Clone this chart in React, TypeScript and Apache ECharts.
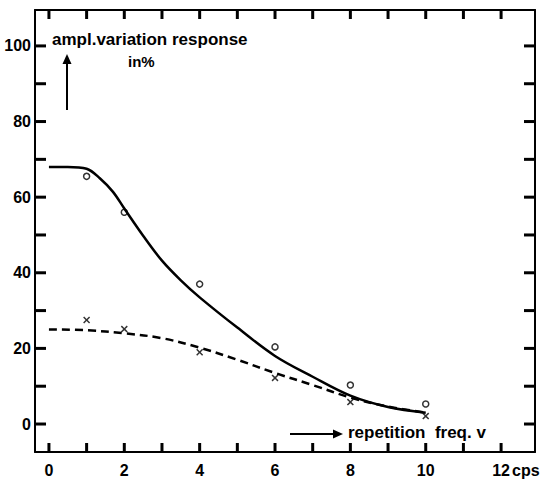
import React, { useEffect, useRef } from "react";
import * as echarts from "echarts";

const xTicks = [0, 1, 2, 3, 4, 5, 6, 7, 8, 9, 10, 11, 12];
const xLabels = [0, 2, 4, 6, 8, 10, 12];
const yTicks = [0, 10, 20, 30, 40, 50, 60, 70, 80, 90, 100];
const yLabels = [0, 20, 40, 60, 80, 100];

const circleX = [1, 2, 4, 6, 8, 10];
const circleY = [65.5, 56, 37, 20.4, 10.3, 5.3];
const crossX = [1, 2, 4, 6, 8, 10];
const crossY = [27.5, 25.1, 19, 12.2, 5.8, 2.1];

const solidX = [0, 0.5, 1, 1.35, 1.7, 2, 2.5, 3, 3.5, 4, 5, 6, 7, 8, 9, 10];
const solidY = [68, 68, 67.5, 65, 61.4, 57, 49.8, 43.2, 38, 33.5, 25.5, 18, 12.5, 7.5, 4.5, 3];
const dashedX = [0, 1, 2, 3, 4, 5, 6, 7, 8, 9, 10];
const dashedY = [25, 24.8, 24, 22.7, 20.2, 17, 13.5, 10.3, 7, 4.6, 3];

const X_MIN = -0.37;
const X_MAX = 12.9;
const Y_MIN = -7.4;
const Y_MAX = 109.5;

const zip = (xs: number[], ys: number[]) => xs.map((x, i) => [x, ys[i]]);

const FONT = "Liberation Sans";
const INK = "#000";

export default function App() {
  const ref = useRef<HTMLDivElement>(null);
  useEffect(() => {
    document.body.style.margin = "0";
    if (!ref.current) return;
    const chart = echarts.init(ref.current, undefined, { renderer: "svg" });
    const axisLine = { show: true, onZero: false, lineStyle: { color: INK, width: 2 } };
    const xBase = {
      type: "value" as const,
      min: X_MIN,
      max: X_MAX,
      axisLine,
      splitLine: { show: false },
      axisTick: { show: false },
    };
    const yBase = {
      type: "value" as const,
      min: Y_MIN,
      max: Y_MAX,
      axisLine,
      splitLine: { show: false },
      axisTick: { show: false },
    };
    const tickLine = (x1: number, y1: number, x2: number, y2: number) => ({
      type: "line",
      shape: { x1, y1, x2, y2 },
      style: { stroke: "#000000", lineWidth: 3, fill: null },
    });
    chart.setOption({
      animation: false,
      grid: { left: 35, right: 10, top: 10, bottom: 30 },
      xAxis: [
        {
          ...xBase,
          position: "bottom",
          axisLabel: {
            customValues: xLabels,
            fontSize: 16,
            fontWeight: "bold",
            fontFamily: FONT,
            color: INK,
            margin: 10,
          },
        },
        { ...xBase, position: "top", axisLabel: { show: false } },
      ],
      yAxis: [
        {
          ...yBase,
          position: "left",
          axisLabel: {
            customValues: yLabels,
            fontSize: 16,
            fontWeight: "bold",
            fontFamily: FONT,
            color: INK,
            margin: 4,
          },
        },
        { ...yBase, position: "right", axisLabel: { show: false } },
      ],
      series: [
        {
          type: "custom",
          silent: true,
          clip: false,
          z: 10,
          data: xTicks.map((t) => [t, 0]),
          renderItem: (params: any, api: any) => {
            const cs = params.coordSys;
            const x = api.coord([api.value(0), 0])[0];
            const b = cs.y + cs.height;
            return {
              type: "group",
              children: [tickLine(x, b, x, b - 9), tickLine(x, cs.y, x, cs.y + 9)],
            };
          },
        },
        {
          type: "custom",
          silent: true,
          clip: false,
          z: 10,
          data: yTicks.map((t) => [0, t]),
          renderItem: (params: any, api: any) => {
            const cs = params.coordSys;
            const y = api.coord([0, api.value(1)])[1];
            const r = cs.x + cs.width;
            return {
              type: "group",
              children: [tickLine(cs.x, y, cs.x + 11, y), tickLine(r, y, r - 11, y)],
            };
          },
        },
        {
          type: "line",
          data: zip(solidX, solidY),
          smooth: 0.35,
          showSymbol: false,
          lineStyle: { color: INK, width: 2.5 },
        },
        {
          type: "line",
          data: zip(dashedX, dashedY),
          smooth: 0.35,
          showSymbol: false,
          lineStyle: { color: INK, width: 2.5, type: [8, 5] },
        },
        {
          type: "scatter",
          data: zip(circleX, circleY),
          symbol: "circle",
          symbolSize: 6,
          itemStyle: { color: "#fff", borderColor: INK, borderWidth: 1.5 },
        },
        {
          type: "scatter",
          data: zip(crossX, crossY),
          symbol:
            "path://M0,1.5L1.5,0L5,3.5L8.5,0L10,1.5L6.5,5L10,8.5L8.5,10L5,6.5L1.5,10L0,8.5L3.5,5Z",
          symbolSize: 7,
          itemStyle: { color: INK },
        },
      ],
    });
    const p12 = chart.convertToPixel({ xAxisIndex: 0 }, 12) as number;
    chart.setOption({
      graphic: [
        {
          type: "text",
          left: 52,
          top: 31,
          style: { text: "ampl.variation response", font: `bold 17px ${FONT}`, fill: INK },
        },
        {
          type: "text",
          left: 128,
          top: 54,
          style: { text: "in%", font: `bold 15px ${FONT}`, fill: INK },
        },
        {
          type: "line",
          shape: { x1: 67, y1: 110, x2: 67, y2: 62 },
          style: { stroke: INK, lineWidth: 2 },
        },
        {
          type: "polygon",
          shape: { points: [[67, 54], [62.5, 64], [71.5, 64]] },
          style: { fill: INK },
        },
        {
          type: "line",
          shape: { x1: 290, y1: 434, x2: 334, y2: 434 },
          style: { stroke: INK, lineWidth: 2 },
        },
        {
          type: "polygon",
          shape: { points: [[343, 434], [333, 429.5], [333, 438.5]] },
          style: { fill: INK },
        },
        {
          type: "text",
          left: 348,
          top: 424,
          style: { text: "repetition  freq. v", font: `bold 17px ${FONT}`, fill: INK },
        },
        {
          type: "text",
          left: p12 + 11,
          top: 462,
          style: { text: "cps", font: `bold 16px ${FONT}`, fill: INK },
        },
      ],
    });
    return () => chart.dispose();
  }, []);
  return <div ref={ref} style={{ width: 545, height: 482 }} />;
}
